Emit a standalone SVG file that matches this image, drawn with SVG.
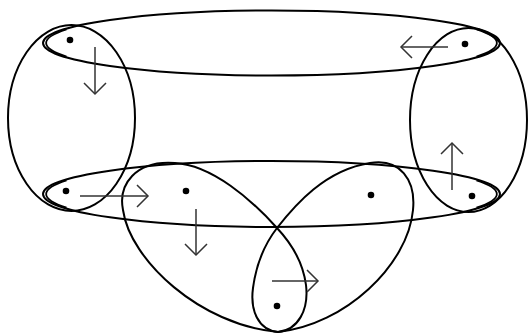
<svg xmlns="http://www.w3.org/2000/svg" width="528" height="333" viewBox="0 0 528 333">
<style>
.c{fill:none;stroke:#000;stroke-width:2}
.t{fill:none;stroke:#000;stroke-width:1.8}
.d{fill:#000}
.a{fill:none;stroke:#333;stroke-width:1.5}
</style>
<defs>
<marker id="h" markerUnits="userSpaceOnUse" viewBox="-1 -1 14 24" refX="11" refY="11" markerWidth="14" markerHeight="24" orient="auto" overflow="visible">
<path d="M0,0 L11,11 L0,22" fill="none" stroke="#333" stroke-width="1.5"/>
</marker>
</defs>
<rect width="528" height="333" fill="#fff"/>
<g id="top-ring">
<ellipse class="c" cx="271.5" cy="43" rx="228.5" ry="32.5"/>
<path class="t" d="M66.5,29.5 A225.5 32.5 0 0 0 66.5,56.5 M476.5,29.5 A225.5 32.5 0 0 1 476.5,56.5"/>
</g>
<g id="left-ring"><ellipse class="c" cx="71.5" cy="118" rx="63.5" ry="93"/></g>
<g id="right-ring"><ellipse class="c" cx="468.5" cy="120" rx="58.5" ry="92"/></g>
<g id="bottom-ring">
<ellipse class="c" cx="271.5" cy="194" rx="228.5" ry="33"/>
<path class="t" d="M66.5,180.3 A225.5 33 0 0 0 66.5,207.7 M476.5,180.3 A225.5 33 0 0 1 476.5,207.7"/>
</g>
<g id="left-lobe"><path class="c" d="M278,332 C298,330 309,310 306,285 C303,262 292,244 277,228 C252,200 212,165 175,163 C135,160 118,185 123,210 C130,260 200,325 278,332 Z"/></g>
<g id="right-lobe"><path class="c" d="M278,332 C258,330 250,310 253,288 C256,265 264,245 277,228 C295,205 325,170 370,163 C400,158 416,180 413,210 C408,265 345,325 278,332 Z"/></g>
<g id="dots">
<circle class="d" cx="70" cy="40" r="3.3"/>
<circle class="d" cx="465" cy="44" r="3.3"/>
<circle class="d" cx="66" cy="191" r="3.3"/>
<circle class="d" cx="472" cy="196" r="3.3"/>
<circle class="d" cx="186" cy="191" r="3.3"/>
<circle class="d" cx="371" cy="195" r="3.3"/>
<circle class="d" cx="277" cy="306" r="3.3"/>
</g>
<g id="connectors">
<line class="a" x1="95" y1="47" x2="95" y2="94" marker-end="url(#h)"/>
<line class="a" x1="448" y1="47" x2="401" y2="47" marker-end="url(#h)"/>
<line class="a" x1="80" y1="196" x2="148" y2="196" marker-end="url(#h)"/>
<line class="a" x1="452" y1="190" x2="452" y2="143" marker-end="url(#h)"/>
<line class="a" x1="196" y1="209" x2="196" y2="255" marker-end="url(#h)"/>
<line class="a" x1="272" y1="281" x2="318" y2="281" marker-end="url(#h)"/>
</g>
</svg>
